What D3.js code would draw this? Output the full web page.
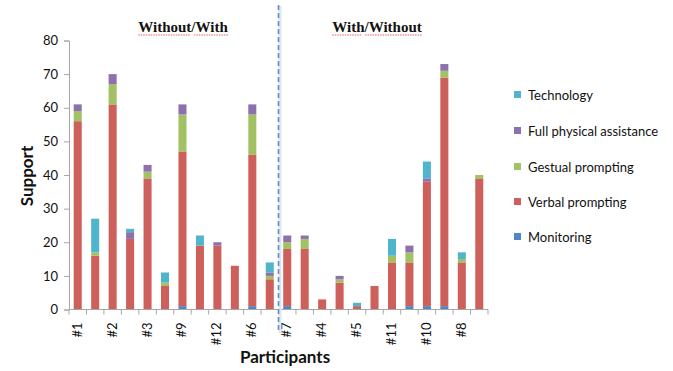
<!DOCTYPE html>
<html>
<head>
<meta charset="utf-8">
<script src="https://cdn.jsdelivr.net/npm/d3@7"></script>
<style>
  html, body { margin: 0; padding: 0; background: #fff; }
  svg { display: block; }
</style>
</head>
<body>
<svg id="chart" width="673" height="371"></svg>
<script>
// ---- data ----
const bars = ["#1 a","#1 b","#2 a","#2 b","#3 a","#3 b","#9 a","#9 b","#12 a","#12 b","#6 a","#6 b",
              "#7 a","#7 b","#4 a","#4 b","#5 a","#5 b","#11 a","#11 b","#10 a","#10 b","#8 a","#8 b"];
const tickLabels = ["#1","","#2","","#3","","#9","","#12","","#6","",
                    "#7","","#4","","#5","","#11","","#10","","#8",""];
const seriesNames = ["Monitoring","Verbal prompting","Gestual prompting","Full physical assistance","Technology"];
const monitoring = [0,0,0,0,0,0,1,0,0,0,1,0, 1,0,0,0,0,0,0,1,1,1,0,0];
const verbal     = [56,16,61,21,39,7,46,19,19,13,45,9, 17,18,3,8,1,7,14,13,37,68,14,39];
const gestual    = [3,1,6,0,2,1,11,0,0,0,12,1, 2,3,0,1,0,0,2,3,0,2,1,1];
const fullPhys   = [2,0,3,2,2,0,3,0,1,0,3,1, 2,1,0,1,0,0,0,2,1,2,0,0];
const technology = [0,10,0,1,0,3,0,3,0,0,0,3, 0,0,0,0,1,0,5,0,5,0,2,0];
const yTicks = [0,10,20,30,40,50,60,70,80];
const groupTitles = ["Without/With","With/Without"];
const colors = ["#4F86C6","#CD605A","#A2C163","#8C71AE","#4FB4CC"];

// ---- layout ----
const svg = d3.select("#chart");
const x0 = 69, x1 = 488, yTop = 40.5, yBot = 309.5;
const x = d3.scaleBand().domain(bars).range([x0, x1]).paddingInner(0.54).paddingOuter(0.27);
const y = d3.scaleLinear().domain([0, 80]).range([yBot, yTop]);
const seriesData = [monitoring, verbal, gestual, fullPhys, technology];
const rows = bars.map((b, i) => {
  const r = { bar: b };
  seriesNames.forEach((s, k) => r[s] = seriesData[k][i]);
  return r;
});
const stack = d3.stack().keys(seriesNames)(rows);

// bars
svg.append("g").selectAll("g").data(stack).join("g")
  .attr("fill", (d, i) => colors[i])
  .selectAll("rect").data(d => d).join("rect")
  .attr("x", d => x(d.data.bar))
  .attr("width", x.bandwidth())
  .attr("y", d => y(d[1]))
  .attr("height", d => y(d[0]) - y(d[1]));

// y axis
const yAxis = svg.append("g").attr("transform", `translate(${x0},0)`)
  .call(d3.axisLeft(y).tickValues(yTicks).tickSize(5).tickPadding(6));
yAxis.select(".domain").attr("stroke", "#a6a6a6");
yAxis.selectAll(".tick line").attr("stroke", "#a6a6a6");
yAxis.selectAll("text").attr("font-family", "Lato, 'Open Sans', sans-serif")
  .attr("font-size", 13).attr("fill", "#111");

// x axis
const step = x.step();
const xAxisG = svg.append("g").attr("transform", `translate(0,${yBot})`);
xAxisG.append("line").attr("x1", x0).attr("x2", x1).attr("stroke", "#a6a6a6");
const boundaries = d3.range(bars.length + 1).map(i => x0 + i * (x1 - x0) / bars.length);
xAxisG.selectAll("line.tk").data(boundaries).join("line").attr("class", "tk")
  .attr("x1", d => d).attr("x2", d => d).attr("y1", 0).attr("y2", 5).attr("stroke", "#a6a6a6");
xAxisG.selectAll("text").data(bars).join("text")
  .attr("transform", d => `translate(${x(d) + x.bandwidth() / 2 + 4},13) rotate(-90)`)
  .attr("text-anchor", "end")
  .attr("font-family", "Lato, 'Open Sans', sans-serif")
  .attr("font-size", 13).attr("fill", "#111")
  .text((d, i) => tickLabels[i]);

// dashed divider
const divX = x0 + 12 * (x1 - x0) / bars.length;
svg.append("line").attr("x1", divX + 1.5).attr("x2", divX + 1.5).attr("y1", 6).attr("y2", 333)
  .attr("stroke", "#dfe6ee").attr("stroke-width", 3);
svg.append("line").attr("x1", divX).attr("x2", divX).attr("y1", 5).attr("y2", 332)
  .attr("stroke", "#5b8fc9").attr("stroke-width", 1.6).attr("stroke-dasharray", "5,3");

// group titles
const titlePos = [[183, 32], [377, 32]];
groupTitles.forEach((t, i) => {
  const txt = svg.append("text").attr("x", titlePos[i][0]).attr("y", titlePos[i][1])
    .attr("text-anchor", "middle")
    .attr("font-family", "'Liberation Serif', 'Times New Roman', serif")
    .attr("font-weight", "bold").attr("font-size", 15).attr("fill", "#111").text(t);
  const bb = txt.node().getBBox();
  const parts = t.split("/");
  const w0 = bb.width * parts[0].length / t.length;
  svg.append("line").attr("x1", bb.x).attr("x2", bb.x + w0 - 1)
    .attr("y1", titlePos[i][1] + 3).attr("y2", titlePos[i][1] + 3)
    .attr("stroke", "#e06060").attr("stroke-width", 1).attr("stroke-dasharray", "1.5,1");
  svg.append("line").attr("x1", bb.x + w0 + 3).attr("x2", bb.x + bb.width)
    .attr("y1", titlePos[i][1] + 3).attr("y2", titlePos[i][1] + 3)
    .attr("stroke", "#e06060").attr("stroke-width", 1).attr("stroke-dasharray", "1.5,1");
});

// axis titles
svg.append("text").attr("transform", "translate(33,176) rotate(-90)")
  .attr("text-anchor", "middle").attr("font-family", "Lato, 'Open Sans', sans-serif")
  .attr("font-weight", "bold").attr("font-size", 17).attr("fill", "#111").text("Support");
svg.append("text").attr("x", 285).attr("y", 363)
  .attr("text-anchor", "middle").attr("font-family", "Lato, 'Open Sans', sans-serif")
  .attr("font-weight", "bold").attr("font-size", 17).attr("fill", "#111").text("Participants");

// legend
const legendOrder = [4, 3, 2, 1, 0];
const legY = [95, 131, 167, 202, 237];
const leg = svg.append("g").selectAll("g").data(legendOrder).join("g")
  .attr("transform", (d, i) => `translate(514,${legY[i]})`);
leg.append("rect").attr("x", 0).attr("y", -4).attr("width", 7).attr("height", 7)
  .attr("fill", d => colors[d]);
leg.append("text").attr("x", 14).attr("y", 4.5)
  .attr("font-family", "Lato, 'Open Sans', sans-serif").attr("font-size", 13).attr("fill", "#111")
  .text(d => seriesNames[d]);
</script>
</body>
</html>
